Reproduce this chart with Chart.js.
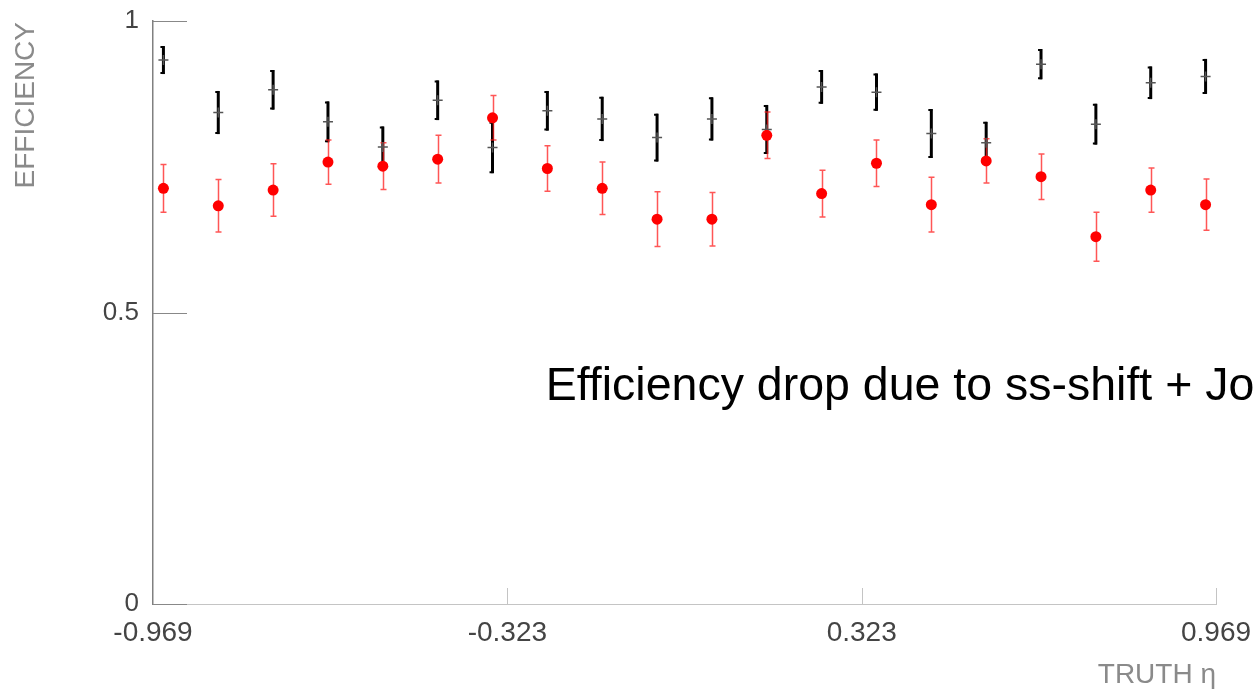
<!DOCTYPE html>
<html>
<head>
<meta charset="utf-8">
<script src="https://cdn.jsdelivr.net/npm/chart.js@4/dist/chart.umd.min.js"></script>
<style>
  body { margin: 0; background: #fff; overflow: hidden; }
  #wrap { width: 1259px; height: 693px; }
</style>
</head>
<body>
<div id="wrap"><canvas id="effChart" width="1259" height="693"></canvas></div>
<script>
// bin centres in truth eta
const etaBins = [-0.95, -0.85, -0.75, -0.65, -0.55, -0.45, -0.35, -0.25, -0.15, -0.05,
                 0.05, 0.15, 0.25, 0.35, 0.45, 0.55, 0.65, 0.75, 0.85, 0.95];
// nominal efficiency (black crosses)
const nominalEff = [0.933, 0.843, 0.882, 0.827, 0.784, 0.864, 0.783, 0.846, 0.832, 0.800,
                    0.832, 0.814, 0.887, 0.878, 0.807, 0.791, 0.926, 0.823, 0.894, 0.905];
const nominalErr = [0.024, 0.037, 0.034, 0.035, 0.035, 0.034, 0.044, 0.034, 0.038, 0.041,
                    0.037, 0.042, 0.029, 0.032, 0.042, 0.036, 0.026, 0.035, 0.028, 0.030];
// efficiency after ss-shift (red dots)
const shiftedEff = [0.713, 0.683, 0.710, 0.758, 0.751, 0.763, 0.834, 0.747, 0.713, 0.660,
                    0.660, 0.804, 0.704, 0.756, 0.685, 0.760, 0.733, 0.630, 0.710, 0.685];
const shiftedErr = [0.041, 0.045, 0.045, 0.038, 0.040, 0.041, 0.038, 0.039, 0.045, 0.047,
                    0.046, 0.040, 0.040, 0.040, 0.047, 0.038, 0.039, 0.042, 0.038, 0.044];

const xTicks = [-0.969, -0.323, 0.323, 0.969];
const yTicks = [0, 0.5, 1];
const noteText = "Efficiency drop due to ss-shift + Jo";
const noteX = -0.253, noteY = 0.35;

const FONT = "'Liberation Sans', Arial, sans-serif";

function toPoints(xs, ys) {
  return xs.map((x, i) => ({ x, y: ys[i] }));
}

// error bars, inward ticks, axis titles and the note
const decor = {
  id: "decor",
  beforeDatasetsDraw(chart) {
    const { ctx, scales: { x, y } } = chart;
    ctx.save();
    // black error bars: thick with small caps to the left
    ctx.strokeStyle = "#000";
    nominalEff.forEach((v, i) => {
      const px = x.getPixelForValue(etaBins[i]);
      const top = y.getPixelForValue(v + nominalErr[i]);
      const bot = y.getPixelForValue(v - nominalErr[i]);
      ctx.lineWidth = 3;
      ctx.beginPath();
      ctx.moveTo(px, top); ctx.lineTo(px, bot);
      ctx.stroke();
      ctx.lineWidth = 2;
      ctx.beginPath();
      ctx.moveTo(px - 3, top + 1); ctx.lineTo(px + 1, top + 1);
      ctx.moveTo(px - 3, bot - 1); ctx.lineTo(px + 1, bot - 1);
      ctx.stroke();
    });
    // red error bars: thin with caps
    ctx.strokeStyle = "rgba(255,30,30,0.75)";
    ctx.lineWidth = 1.5;
    shiftedEff.forEach((v, i) => {
      const px = Math.round(x.getPixelForValue(etaBins[i])) + 0.5;
      const top = y.getPixelForValue(v + shiftedErr[i]);
      const bot = y.getPixelForValue(v - shiftedErr[i]);
      ctx.beginPath();
      ctx.moveTo(px, top); ctx.lineTo(px, bot);
      ctx.moveTo(px - 3, top); ctx.lineTo(px + 3, top);
      ctx.moveTo(px - 3, bot); ctx.lineTo(px + 3, bot);
      ctx.stroke();
    });
    ctx.restore();
  },
  afterDraw(chart) {
    const { ctx, scales: { x, y } } = chart;
    ctx.save();
    // inward ticks
    ctx.lineWidth = 1;
    ctx.strokeStyle = "#888";
    yTicks.forEach(t => {
      const py = Math.round(y.getPixelForValue(t)) + 0.5;
      ctx.beginPath();
      ctx.moveTo(x.left, py); ctx.lineTo(x.left + 34, py);
      ctx.stroke();
    });
    ctx.strokeStyle = "#c4c4c4";
    xTicks.slice(1).forEach(t => {
      const px = Math.round(x.getPixelForValue(t)) + 0.5;
      ctx.beginPath();
      ctx.moveTo(px, y.bottom); ctx.lineTo(px, y.bottom - 16);
      ctx.stroke();
    });
    // axis titles
    ctx.fillStyle = "#8a8a8a";
    ctx.font = "28px " + FONT;
    ctx.textBaseline = "middle";
    ctx.textAlign = "right";
    ctx.fillText("TRUTH \u03b7", x.right, 675);
    ctx.translate(26, y.top + 1);
    ctx.rotate(-Math.PI / 2);
    ctx.textAlign = "right";
    ctx.fillText("EFFICIENCY", 0, 0);
    ctx.restore();
    // note
    ctx.save();
    ctx.fillStyle = "#000";
    ctx.font = "46.5px " + FONT;
    ctx.textAlign = "left";
    ctx.textBaseline = "alphabetic";
    ctx.fillText(noteText, x.getPixelForValue(noteX), y.getPixelForValue(noteY));
    ctx.restore();
  }
};

new Chart(document.getElementById("effChart").getContext("2d"), {
  type: "scatter",
  data: {
    datasets: [
      {
        label: "shifted",
        data: toPoints(etaBins, shiftedEff),
        pointStyle: "circle",
        pointRadius: 5.5,
        backgroundColor: "#ff0000",
        borderColor: "#ff0000",
        borderWidth: 0,
        order: 1
      },
      {
        label: "nominal",
        data: toPoints(etaBins, nominalEff),
        pointStyle: "cross",
        pointRadius: 5,
        borderColor: "#555",
        borderWidth: 1.5,
        order: 2
      }
    ]
  },
  options: {
    responsive: false,
    animation: false,
    events: [],
    layout: { padding: { top: 21, right: 43, left: 0, bottom: 0 } },
    plugins: { legend: { display: false }, tooltip: { enabled: false } },
    scales: {
      x: {
        type: "linear",
        min: -0.969,
        max: 0.969,
        afterBuildTicks: s => { s.ticks = xTicks.map(v => ({ value: v })); },
        afterFit: s => { s.height = 89; s.paddingLeft = 0; s.paddingRight = 0; },
        grid: { display: false },
        border: { display: true, color: "#c4c4c4", width: 1 },
        ticks: {
          color: "#444",
          font: { family: FONT, size: 28 },
          padding: 4,
          maxRotation: 0,
          callback: v => String(v)
        }
      },
      y: {
        min: 0,
        max: 1,
        afterBuildTicks: s => { s.ticks = yTicks.map(v => ({ value: v })); },
        afterFit: s => { s.width = 153; s.paddingTop = 0; s.paddingBottom = 0; },
        grid: { display: false },
        border: { display: true, color: "#808080", width: 1.5 },
        ticks: {
          color: "#444",
          font: { family: FONT, size: 26 },
          padding: 6,
          callback: v => String(v)
        }
      }
    }
  },
  plugins: [decor]
});
</script>
</body>
</html>
